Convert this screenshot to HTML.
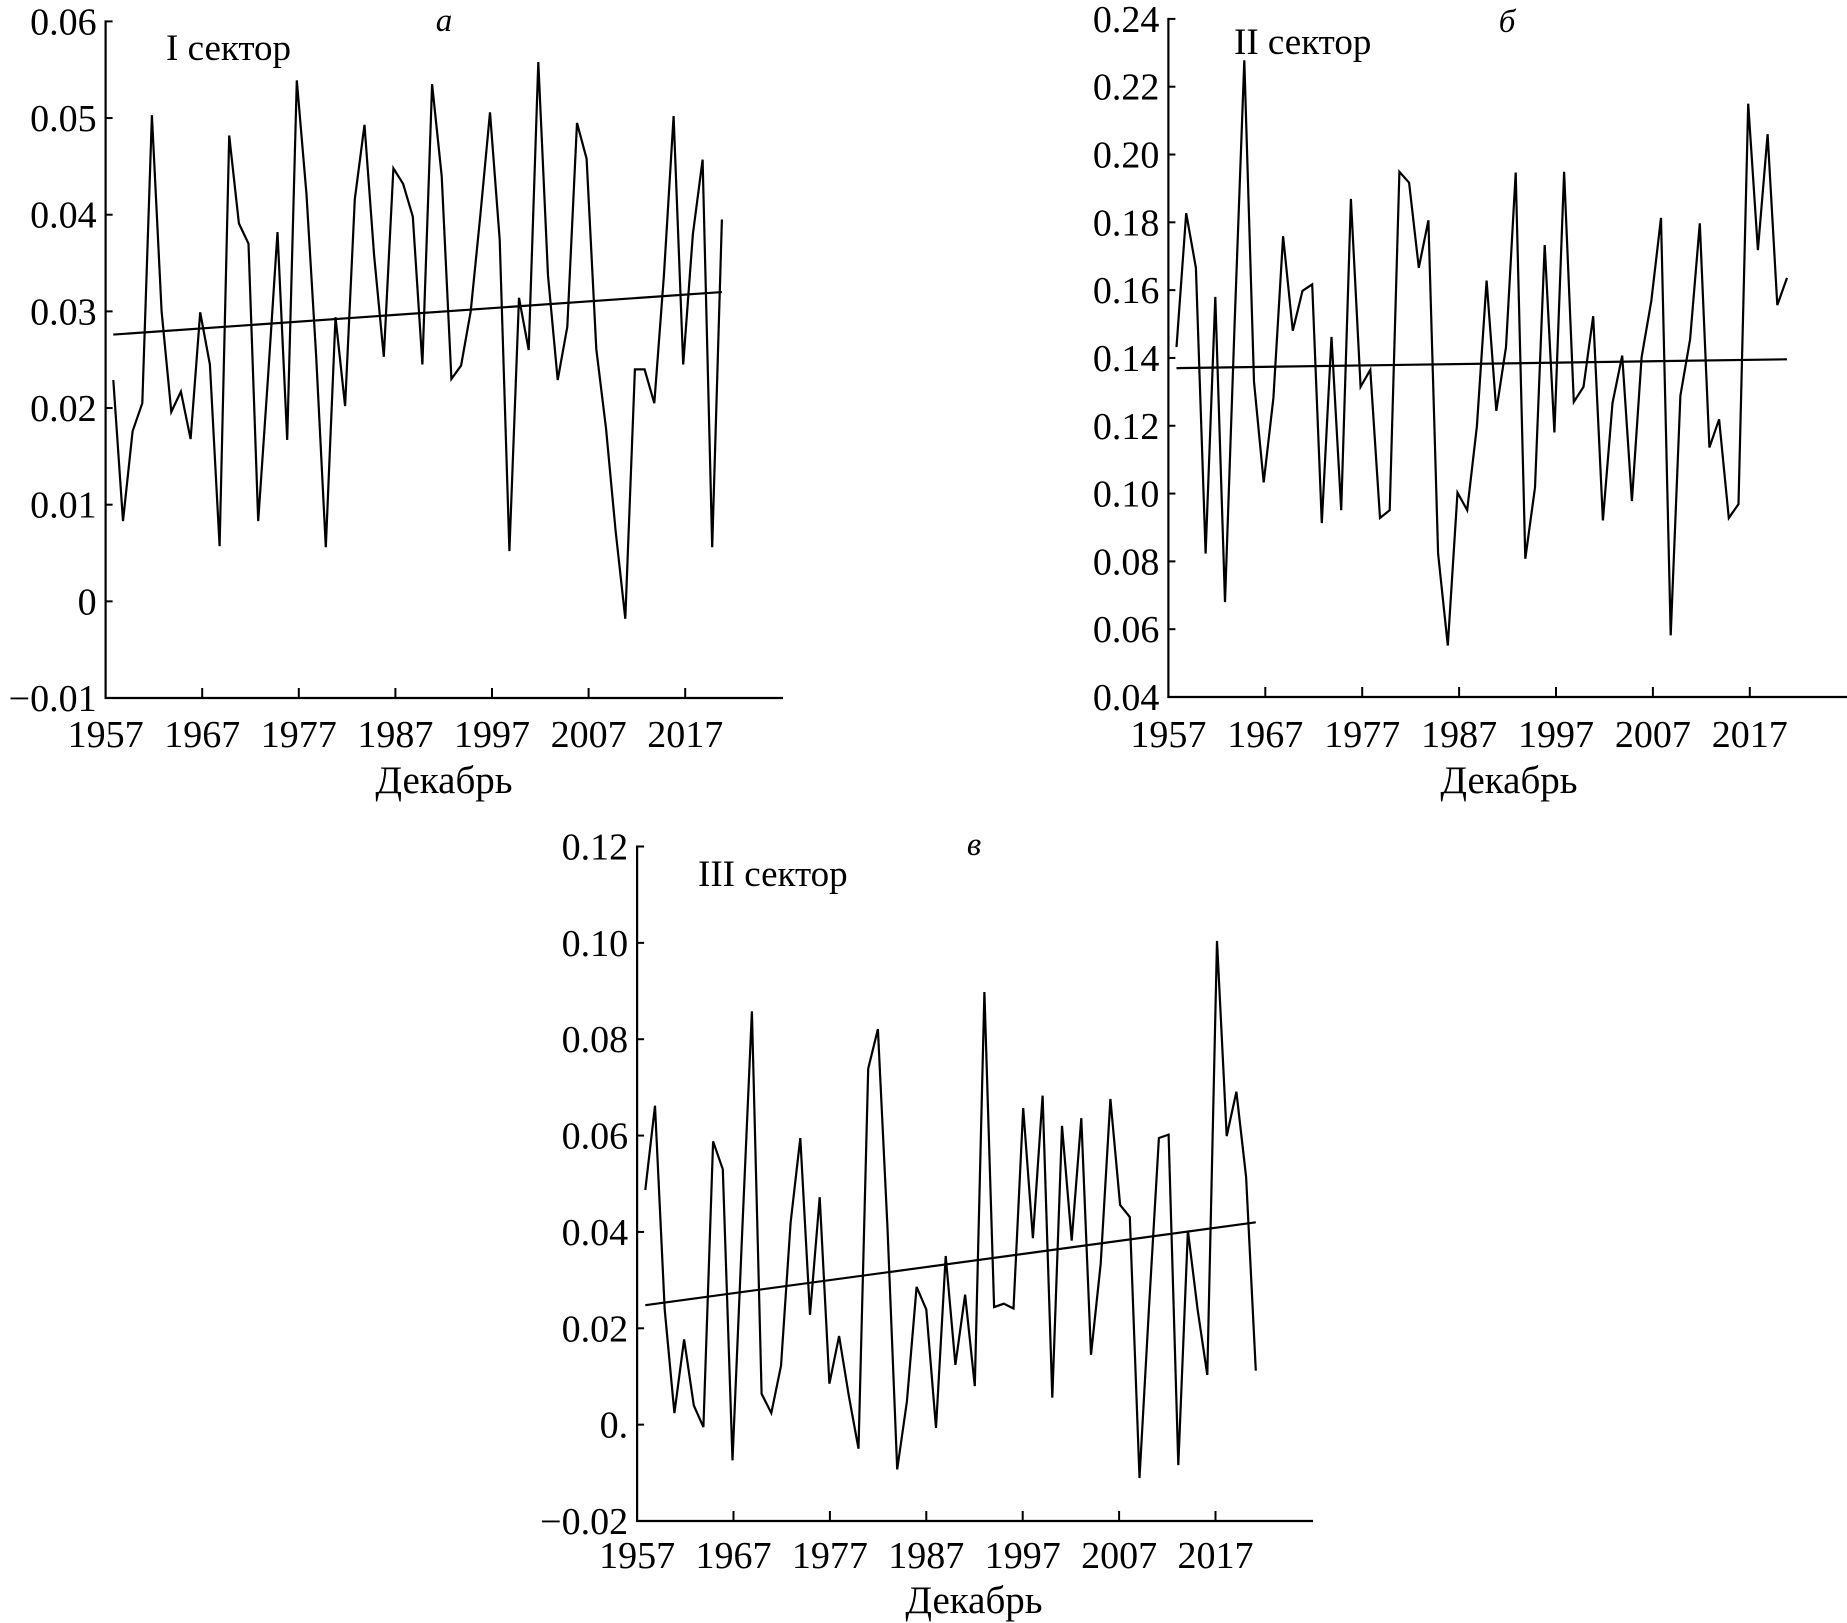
<!DOCTYPE html>
<html>
<head>
<meta charset="utf-8">
<style>
html,body{margin:0;padding:0;background:#fff;}
svg{display:block;}
text{font-family:"Liberation Serif",serif;fill:#000;}
</style>
</head>
<body>
<svg id="fig" width="1847" height="1623" viewBox="0 0 1847 1623" xmlns="http://www.w3.org/2000/svg"></svg>
<script>
// ---- data ----
const xTickLabels = ["1957","1967","1977","1987","1997","2007","2017"];
const yTicksA = [-0.01,0,0.01,0.02,0.03,0.04,0.05,0.06];
const yTickLabelsA = ["\u22120.01","0","0.01","0.02","0.03","0.04","0.05","0.06"];
const yTicksB = [0.04,0.06,0.08,0.10,0.12,0.14,0.16,0.18,0.20,0.22,0.24];
const yTickLabelsB = ["0.04","0.06","0.08","0.10","0.12","0.14","0.16","0.18","0.20","0.22","0.24"];
const yTicksC = [-0.02,0,0.02,0.04,0.06,0.08,0.10,0.12];
const yTickLabelsC = ["\u22120.02","0.","0.02","0.04","0.06","0.08","0.10","0.12"];
const valuesA = [0.0229,0.0083,0.0176,0.0205,0.0503,0.0300,0.0196,0.0217,0.0168,0.0299,0.0245,0.0057,0.0482,0.0391,0.0370,0.0083,0.0230,0.0382,0.0167,0.0539,0.0421,0.0253,0.0056,0.0294,0.0202,0.0416,0.0493,0.0358,0.0253,0.0448,0.0432,0.0398,0.0245,0.0535,0.0440,0.0230,0.0244,0.0300,0.0400,0.0506,0.0374,0.0052,0.0314,0.0260,0.0558,0.0337,0.0229,0.0284,0.0495,0.0458,0.0261,0.0179,0.0073,-0.0018,0.0240,0.0240,0.0205,0.0337,0.0502,0.0245,0.0380,0.0457,0.0056,0.0395];
const valuesB = [0.1432,0.1827,0.1666,0.0823,0.1580,0.0680,0.1500,0.2278,0.1330,0.1033,0.1282,0.1759,0.1480,0.1598,0.1617,0.0913,0.1462,0.0951,0.1869,0.1315,0.1365,0.0928,0.0951,0.1949,0.1917,0.1666,0.1806,0.0823,0.0552,0.1003,0.0951,0.1199,0.1628,0.1244,0.1432,0.1947,0.0808,0.1018,0.1733,0.1180,0.1949,0.1270,0.1315,0.1523,0.0921,0.1267,0.1407,0.0978,0.1402,0.1568,0.1813,0.0582,0.1289,0.1455,0.1797,0.1136,0.1219,0.0928,0.0969,0.2150,0.1718,0.2060,0.1556,0.1636];
const valuesC = [0.0487,0.0662,0.0239,0.0024,0.0177,0.0040,-0.0005,0.0588,0.0530,-0.0074,0.0400,0.0858,0.0064,0.0024,0.0122,0.0419,0.0595,0.0228,0.0472,0.0085,0.0184,0.0060,-0.0050,0.0739,0.0821,0.0408,-0.0093,0.0048,0.0286,0.0239,-0.0007,0.0350,0.0124,0.0270,0.0080,0.0898,0.0244,0.0251,0.0241,0.0657,0.0387,0.0683,0.0056,0.0620,0.0382,0.0636,0.0145,0.0334,0.0676,0.0456,0.0431,-0.0111,0.0250,0.0595,0.0602,-0.0084,0.0403,0.0239,0.0103,0.1004,0.0599,0.0691,0.0514,0.0112];
const trendA = [0.0276,0.0320];
const trendB = [0.1370,0.1396];
const trendC = [0.0248,0.0420];

const NS="http://www.w3.org/2000/svg";
const svg=document.getElementById('fig');
function mk(tag,attrs,parent){const e=document.createElementNS(NS,tag);for(const k in attrs)e.setAttribute(k,attrs[k]);(parent||svg).appendChild(e);return e;}

function chart(cfg){
  const g=mk('g',{});
  
  
  const y=v=>cfg.yTop+(cfg.yMax-v)/(cfg.yMax-cfg.yMin)*(cfg.yBot-cfg.yTop);
  const xi=i=>cfg.x0+i*cfg.step;
  const xt=k=>cfg.axisX+k*cfg.tickSp;
  const ya=mk('line',{x1:cfg.axisX,y1:cfg.yTop-1,x2:cfg.axisX,y2:cfg.yBot+1,stroke:'#000','stroke-width':2.2},g);
  
  
  const xa=mk('line',{x1:cfg.axisX-1,y1:cfg.yBot,x2:cfg.xEnd,y2:cfg.yBot,stroke:'#000','stroke-width':2.2},g);
  
  
  cfg.yTicks.forEach((v,k)=>{
    const t=mk('line',{x1:cfg.axisX,y1:y(v),x2:cfg.axisX+7,y2:y(v),stroke:'#000','stroke-width':2},g);
    
    
    const l=mk('text',{x:cfg.axisX-9,y:y(v)+13,'text-anchor':'end','font-size':38},g);
    l.textContent=cfg.yLabels[k];
    
    
  });
  xTickLabels.forEach((s,k)=>{
    if(k>0){
      const t=mk('line',{x1:xt(k),y1:cfg.yBot,x2:xt(k),y2:cfg.yBot-10,stroke:'#000','stroke-width':2},g);
      
      
    }
    const l=mk('text',{x:xt(k),y:cfg.xLabY,'text-anchor':'middle','font-size':38},g);
    l.textContent=s;
    
    
  });
  const pts=cfg.values.map((v,i)=>xi(i).toFixed(1)+','+y(v).toFixed(1)).join(' ');
  const p=mk('polyline',{points:pts,fill:'none',stroke:'#000','stroke-width':2.2,'stroke-linejoin':'miter'},g);
  
  
  const n=cfg.values.length-1;
  const tr=mk('line',{x1:xi(0),y1:y(cfg.trend[0]),x2:xi(n),y2:y(cfg.trend[1]),stroke:'#000','stroke-width':2.2},g);
  
  
  const xt2=mk('text',{x:cfg.titleX,y:cfg.titleY+45,'text-anchor':'middle','font-size':39},g);
  xt2.textContent='Декабрь';
  
  
  const st=mk('text',{x:cfg.secX,y:cfg.secY,'font-size':37},g);
  st.textContent=cfg.sector;
  
  
  const pl=mk('text',{x:cfg.letX,y:cfg.letY,'text-anchor':'middle','font-size':33,'font-style':'italic'},g);
  pl.textContent=cfg.letter;
  
  
}

chart({name:'chart-sector-1',values:valuesA,trend:trendA,yTicks:yTicksA,yLabels:yTickLabelsA,
  yMin:-0.01,yMax:0.06,yTop:21.4,yBot:698,axisX:105.6,xEnd:783,tickSp:96.6,x0:113.3,step:9.66,
  xLabY:747,titleX:444,titleY:748,sector:'I сектор',secX:166,secY:60,letter:'а',letX:444,letY:31});
chart({name:'chart-sector-2',values:valuesB,trend:trendB,yTicks:yTicksB,yLabels:yTickLabelsB,
  yMin:0.04,yMax:0.24,yTop:18.9,yBot:697,axisX:1168.4,xEnd:1847,tickSp:96.9,x0:1176.5,step:9.69,
  xLabY:747,titleX:1509,titleY:748,sector:'II сектор',secX:1234,secY:54,letter:'б',letX:1507,letY:32});
chart({name:'chart-sector-3',values:valuesC,trend:trendC,yTicks:yTicksC,yLabels:yTickLabelsC,
  yMin:-0.02,yMax:0.12,yTop:846.5,yBot:1521,axisX:637.1,xEnd:1313,tickSp:96.4,x0:645.3,step:9.69,
  xLabY:1568,titleX:974,titleY:1568,sector:'III сектор',secX:698,secY:886,letter:'в',letX:974,letY:855});
</script>
</body>
</html>
